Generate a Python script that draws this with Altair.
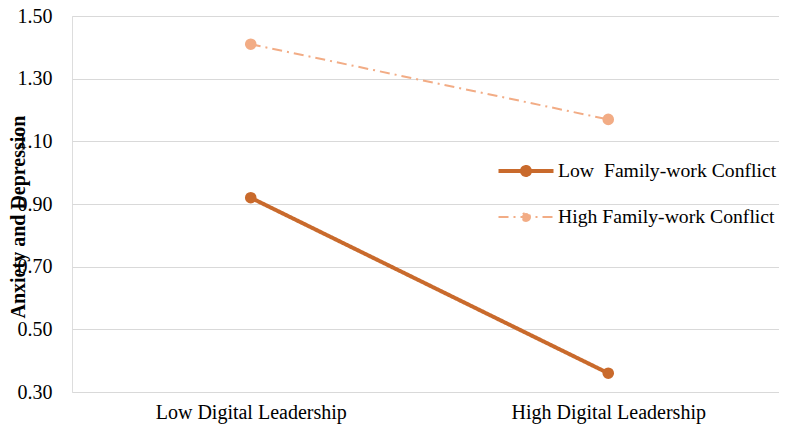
import altair as alt
import pandas as pd

categories = ["Low Digital Leadership", "High Digital Leadership"]
series = ["Low\u00a0 Family-work Conflict", "High Family-work Conflict"]
low_conflict = [0.92, 0.36]
high_conflict = [1.41, 1.17]
y_ticks = [0.30, 0.50, 0.70, 0.90, 1.10, 1.30, 1.50]

colors = ["#C96A2C", "#F2AC85"]

rows = []
for c, v in zip(categories, low_conflict):
    rows.append({"dl": c, "series": series[0], "val": v})
for c, v in zip(categories, high_conflict):
    rows.append({"dl": c, "series": series[1], "val": v})
df = pd.DataFrame(rows)

FONT = "Liberation Serif"
sym_path = "M-2.75,0L2.75,0M0.4,0A0.4,0.4,0,1,1,-0.4,0A0.4,0.4,0,1,1,0.4,0Z"

legend = alt.Legend(
    title=None, orient="none", legendX=442, legendY=143,
    symbolType=sym_path, symbolSize=400, symbolOffset=0,
    labelOffset=20, rowPadding=23, padding=0,
    labelFont=FONT, labelFontSize=19.7, labelColor="black",
    labelLimit=0)

chart = alt.Chart(df).mark_line(
    point=alt.OverlayMarkDef(filled=True, size=135, opacity=1, strokeWidth=0)
).encode(
    x=alt.X("dl:N", sort=categories,
            scale=alt.Scale(type="point", padding=0.48881, align=0.51144),
            axis=alt.Axis(title=None, labelAngle=0, labelFont=FONT, labelFontSize=20,
                          labelColor="black", labelPadding=10, labelLimit=0,
                          ticks=False, domain=False, grid=False)),
    y=alt.Y("val:Q",
            scale=alt.Scale(domain=[0.30, 1.50], nice=False, zero=False),
            axis=alt.Axis(values=y_ticks, format=".2f", title="Anxiety and Depression",
                          labelFont=FONT, labelFontSize=20, labelColor="black",
                          labelPadding=20, ticks=False, domain=False, grid=True,
                          gridColor="#D9D9D9", gridWidth=1,
                          titleFont=FONT, titleFontSize=20, titleFontWeight="bold",
                          titleColor="black", titleAngle=270, titleX=-48, titleY=200.5,
                          titleAlign="center", titleBaseline="alphabetic")),
    color=alt.Color("series:N",
                    scale=alt.Scale(domain=series, range=colors),
                    legend=legend),
    fill=alt.Fill("series:N",
                  scale=alt.Scale(domain=series, range=colors),
                  legend=legend),
    strokeDash=alt.StrokeDash("series:N",
                              scale=alt.Scale(domain=series, range=[[1, 0], [10, 5, 2, 5]]),
                              legend=legend),
    strokeWidth=alt.StrokeWidth("series:N",
                                scale=alt.Scale(domain=series, range=[4, 2]),
                                legend=legend),
).properties(
    width=707, height=376,
    padding={"left": 64, "top": 8, "right": 0, "bottom": 32},
    autosize=alt.AutoSizeParams(type="none"),
).configure_view(stroke=None).configure(font=FONT)

chart.save("out.html", embed_options={"renderer": "svg", "actions": False})
